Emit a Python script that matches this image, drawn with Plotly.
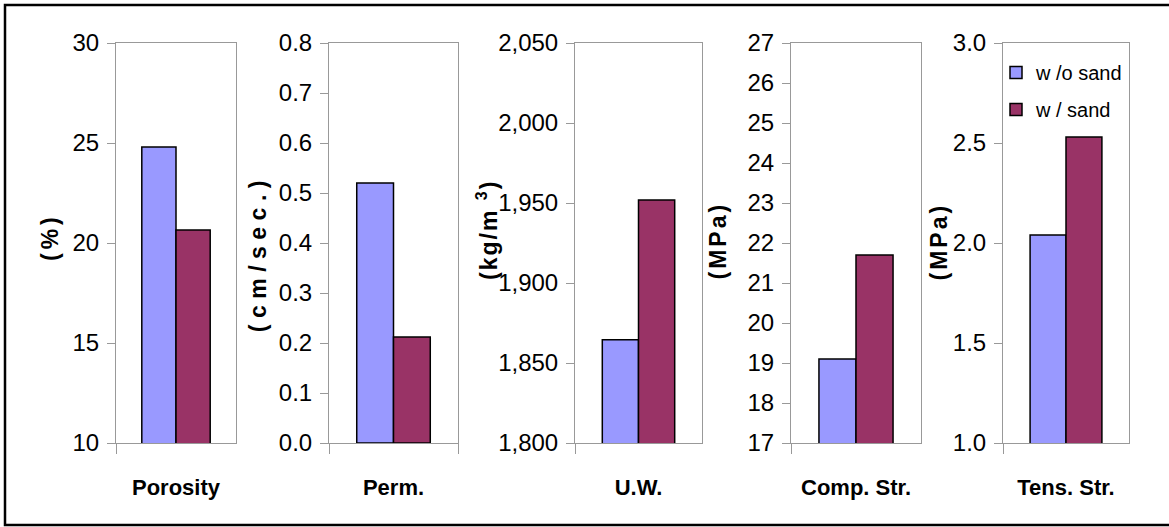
import plotly.graph_objects as go

# ---- data ----
categories = ["Porosity", "Perm.", "U.W.", "Comp. Str.", "Tens. Str."]
series_names = ["w /o sand", "w / sand"]
without_sand = [24.8, 0.52, 1864.5, 19.1, 2.04]
with_sand = [20.65, 0.212, 1951.8, 21.7, 2.53]
y_titles = ["(%)", "(cm/sec.)", "(kg/m <sup>3</sup>)", "(MPa)", "(MPa)"]
y_ranges = [[10, 30], [0, 0.8], [1800, 2050], [17, 27], [1.0, 3.0]]
y_dticks = [5, 0.1, 50, 1, 0.5]
y_formats = ["d", ".1f", ",d", "d", ".1f"]

colors = ["#9999FF", "#993366"]

W, H = 1169, 527
# panel pixel extents
px_x = [(116, 236), (329, 458), (575, 702), (791, 921), (1003, 1129)]
px_top, px_bot = 43, 443
title_px = [(50, 237), (258, 253), (487, 230), (718, 241), (939, 242)]
title_spacing = [4, 6.5, 2, 3, 3]

FONT = "Liberation Sans, Arial, sans-serif"

fig = go.Figure()
layout = dict(
    width=W, height=H,
    margin=dict(l=0, r=0, t=0, b=0),
    paper_bgcolor="white", plot_bgcolor="white",
    barmode="group", bargap=0.43, bargroupgap=0.0,
    font=dict(family=FONT, color="black"),
    showlegend=True,
    legend=dict(
        x=996 / W, y=1 - 53 / H, xanchor="left", yanchor="top",
        bgcolor="rgba(255,255,255,0)", borderwidth=0,
        font=dict(size=20, family=FONT, color="black"),
        itemwidth=30, tracegroupgap=8,
    ),
)

for i, cat in enumerate(categories):
    suffix = "" if i == 0 else str(i + 1)
    xa, ya = "x" + suffix, "y" + suffix
    for j, (name, vals) in enumerate(zip(series_names, [without_sand, with_sand])):
        fig.add_trace(go.Bar(
            x=[cat], y=[vals[i]], name=name,
            xaxis=xa, yaxis=ya,
            marker=dict(color=colors[j], line=dict(color="black", width=1.5)),
            showlegend=(i == len(categories) - 1),
            legendgroup=name,
        ))
    x0, x1 = px_x[i]
    layout["xaxis" + suffix] = dict(
        domain=[x0 / W, x1 / W], anchor=ya,
        showline=True, linecolor="#999999", linewidth=1, mirror=True,
        ticks="outside", ticklen=10, tickcolor="#999999", tickson="boundaries",
        showgrid=False, zeroline=False,
        tickfont=dict(size=22, family=FONT, color="black", weight="bold"),
        ticklabelstandoff=25, automargin=False, fixedrange=True,
    )
    layout["yaxis" + suffix] = dict(
        domain=[1 - px_bot / H, 1 - px_top / H], anchor=xa,
        range=y_ranges[i], dtick=y_dticks[i], tick0=y_ranges[i][0],
        tickformat=y_formats[i],
        showline=True, linecolor="#999999", linewidth=1, mirror=True,
        ticks="outside", ticklen=8, tickcolor="#999999",
        showgrid=False, zeroline=False,
        tickfont=dict(size=24, family=FONT, color="black"),
        ticklabelstandoff=3, automargin=False, fixedrange=True,
    )

annotations = []
for t, (tx, ty) in zip(y_titles, title_px):
    annotations.append(dict(
        text=t, x=tx / W, y=1 - ty / H, xref="paper", yref="paper",
        xanchor="center", yanchor="middle", textangle=-90, showarrow=False,
        font=dict(size=23, family=FONT, color="black", weight="bold"),
    ))
layout["annotations"] = annotations

bx0, by_top, by_bot = 5 / W, 1 - 5 / H, 1 - 525 / H
layout["shapes"] = [dict(
    type="path", xref="paper", yref="paper",
    path=f"M 1.01,{by_top} L {bx0},{by_top} L {bx0},{by_bot} L 1.01,{by_bot}",
    line=dict(color="black", width=2.5), fillcolor="rgba(0,0,0,0)",
)]

fig.update_layout(**layout)

post = """
document.body.style.margin = '0';
document.body.style.overflow = 'hidden';
var sp = %s;
var els = document.querySelectorAll('.annotation-text');
els.forEach(function(e, k){ if (k < sp.length) { e.style.letterSpacing = sp[k] + 'px'; } });
""" % str(title_spacing)

fig.write_html("out.html", post_script=post, config={"displayModeBar": False})
